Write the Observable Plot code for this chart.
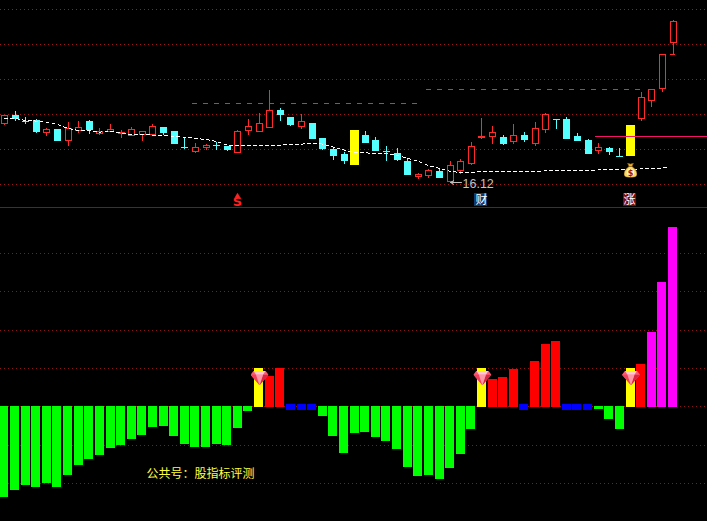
<!DOCTYPE html>
<html><head><meta charset="utf-8">
<script src="https://cdn.jsdelivr.net/npm/d3@7"></script>
<script src="https://cdn.jsdelivr.net/npm/@observablehq/plot@0.6"></script>
<style>html,body{margin:0;padding:0;background:#000;overflow:hidden}svg{display:block}</style>
</head><body><div id="chart"></div>
<script>
const openP  = [19.10,19.50,19.20,19.25,18.65,18.80,18.25,18.75,19.20,18.60,18.70,18.60,18.50,18.55,18.55,18.90,18.70,17.90,17.70,17.90,18.00,17.95,17.65,18.75,18.70,18.90,19.75,19.40,18.95,19.10,18.35,17.80,17.55,17.00,18.50,18.25,17.70,17.60,17.20,16.45,16.50,16.70,16.20,16.75,17.10,18.40,18.45,18.40,18.20,18.50,18.10,18.80,19.30,19.30,18.45,18.25,17.75,17.85,17.45,17.45,19.35,20.25,20.85,23.15];
const closeP = [19.50,19.35,19.19,18.70,18.80,18.25,18.85,18.90,18.80,18.70,18.80,18.61,18.80,18.70,18.95,18.65,18.10,17.89,17.90,18.00,17.99,17.80,18.70,18.95,19.10,19.75,19.55,19.05,19.20,18.35,17.85,17.50,17.25,18.75,18.15,17.75,17.69,17.30,16.55,16.55,16.75,16.40,17.00,17.20,17.95,18.41,18.65,18.10,18.50,18.30,18.85,19.55,19.29,18.35,18.25,17.60,17.90,17.70,17.44,19.00,20.40,20.80,22.55,24.20];
const highP  = [19.50,19.70,19.40,19.30,18.85,18.80,19.15,19.20,19.25,18.85,19.05,18.75,18.90,18.70,19.05,18.90,18.70,18.40,18.10,18.05,18.15,17.95,18.75,19.30,19.60,20.75,19.85,19.40,19.55,19.10,18.35,17.85,17.65,18.75,18.70,18.40,17.95,17.85,17.30,16.60,16.80,16.85,17.20,17.30,18.15,19.35,18.95,18.50,19.05,18.65,19.15,19.60,19.30,19.40,18.60,18.30,18.10,17.90,17.85,19.00,20.65,20.80,22.55,24.25];
const lowP   = [19.00,19.20,19.05,18.60,18.45,18.20,17.95,18.60,18.55,18.50,18.70,18.35,18.50,18.20,18.55,18.50,18.10,17.80,17.60,17.75,17.75,17.70,17.65,18.50,18.70,18.85,19.20,18.95,18.80,18.30,17.75,17.25,17.05,17.00,18.10,17.75,17.20,17.20,16.50,16.30,16.35,16.35,16.20,16.55,17.00,18.30,18.05,18.00,18.05,18.15,17.95,18.60,18.80,18.35,18.20,17.55,17.55,17.50,17.40,17.45,19.20,19.90,20.65,22.55];
const maP    = [19.35,19.35,19.25,19.22,19.15,19.05,18.85,18.75,18.75,18.67,18.70,18.62,18.55,18.55,18.52,18.52,18.45,18.42,18.35,18.30,18.20,18.02,18.00,18.00,18.00,18.00,18.02,18.05,18.07,18.12,18.07,17.92,17.77,17.65,17.63,17.61,17.60,17.50,17.37,17.20,17.00,16.85,16.70,16.65,16.66,16.70,16.70,16.70,16.70,16.70,16.71,16.73,16.73,16.74,16.75,16.75,16.78,16.79,16.80,16.80,16.83,16.85,16.87,16.95];
const signalCandles = [33, 59];
const priceGrid = [24.80, 23.05, 21.30, 19.55, 17.80, 16.05];
const resistance = [{p: 20.10, a: 17.73, b: 39.2}, {p: 20.80, a: 39.8, b: 60.2}];
const supportLine = {p: 18.45, a: 55.7, b: 66.3};
const limitTick = {p: 22.55, a: 62.72, b: 63.28};
const lowLabel = "16.12";
const signs = [{i: 22, t: "S", c: "#ff2020", bg: null}, {i: 45, t: "财", c: "#ffffff", bg: "#0c3a72"}, {i: 59, t: "涨", c: "#ffffff", bg: "#7a0c0c"}];

const hist = [-91,-84,-79,-81,-77,-81,-69,-59,-53,-49,-42,-39,-33,-29,-21,-20,-30,-38,-41,-41,-38,-39,-22,-5,38,30,38,1,1,1,-10,-30,-47,-27,-26,-31,-35,-43,-61,-70,-69,-73,-62,-48,-23,38,27,29,37,1,45,62,65,1,1,1,-3,-13,-23,38,42,74,124,179];
const yellowBars = [24, 45, 59];
const blueBars = [27, 28, 29, 49, 53, 54, 55];
const magentaBars = [61, 62, 63];
const histGrid = [153, 115, 76, 38, 0, -39, -77];
const footer = "公共号：股指标评测";

const xDomain = [-0.3675, 66.25];
const idx = d3.range(64);
const candles = idx.map(i => ({i, o: openP[i], c: closeP[i], h: highP[i], l: lowP[i], m: maP[i]}));
const normal = candles.filter(d => !signalCandles.includes(d.i));
const col = d => d.c >= d.o ? "#ff2a2a" : "#54ffff";
const crisp = {shapeRendering: "crispEdges"};
const dotted = {strokeDasharray: "1,3", strokeDashoffset: 0.5, ...crisp};

const gem = "data:image/svg+xml," + encodeURIComponent('<svg xmlns="http://www.w3.org/2000/svg" viewBox="0 0 18 14.500"><path d="M3 0H15L18 4L9 14.500L0 4Z" fill="#ff5a72"/><path d="M3 0H15L12.500 4H5.500Z" fill="#ffc8d0"/><path d="M0 4H5.500L9 14.500Z" fill="#f2405c"/><path d="M18 4H12.500L9 14.500Z" fill="#dc2440"/><path d="M5.500 4H12.500L9 14.500Z" fill="#ff98a6"/></svg>');
const bag = "data:image/svg+xml," + encodeURIComponent('<svg xmlns="http://www.w3.org/2000/svg" viewBox="0 0 13 15"><path d="M3.500 0.500L6.500 1.500L9.500 0.500L8 4H5Z" fill="#e8b030" stroke="#7a4a10" stroke-width=".6"/><path d="M5 4H8C11 6 13 9 13 11.500C13 14 11 15 6.500 15C2 15 0 14 0 11.500C0 9 2 6 5 4Z" fill="#f8d860" stroke="#8a5a10" stroke-width=".6"/><ellipse cx="6.500" cy="10" rx="3.800" ry="3.800" fill="#fff4c8"/><text x="6.500" y="13" font-size="8" font-weight="bold" text-anchor="middle" fill="#a01808" font-family="DejaVu Sans">$</text></svg>');

const topPanel = Plot.plot({
  width: 707, height: 208, margin: 0,
  style: {background: "#000"},
  x: {domain: xDomain, axis: null, round: true},
  y: {domain: [25.25, 14.85], range: [0, 208], axis: null},
  marks: [
    Plot.ruleY(priceGrid, {stroke: "#a01818", ...dotted}),
    Plot.ruleY(resistance, {y: "p", x1: "a", x2: "b", stroke: "#e03030", strokeDasharray: "5,6", ...crisp}),
    Plot.ruleX(normal, {x: "i", y1: "l", y2: "h", stroke: col, ...crisp}),
    Plot.rect(normal, {x1: d => d.i - 0.283, x2: d => d.i + 0.283, y1: "o", y2: "c", dx: 0.5, fill: d => d.c >= d.o ? "#000" : "#54ffff", stroke: col, ...crisp}),
    Plot.rect(signalCandles.map(i => candles[i]), {x1: d => d.i - 0.424, x2: d => d.i + 0.424, y1: "o", y2: "c", fill: "#ffff00", ...crisp}),
    Plot.ruleY([supportLine], {y: "p", x1: "a", x2: "b", stroke: "#f5106e", ...crisp}),
    Plot.ruleY([limitTick], {y: "p", x1: "a", x2: "b", stroke: "#ff2a2a", ...crisp}),
    Plot.line(candles, {x: d => d.i === 63 ? 62.7 : d.i, y: "m", stroke: "#fff", strokeWidth: 1, strokeDasharray: "3,3", curve: "linear", ...crisp}),
    Plot.image([candles[59]], {x: "i", y: () => 16.775, width: 13, height: 15, src: bag}),
    Plot.arrow([{}], {x1: () => 43.05, x2: () => 42, y1: () => 16.15, y2: () => 16.15, stroke: "#c0c0c0", strokeWidth: 1, headLength: 6, bend: 0}),
    Plot.text([lowLabel], {x: () => 43.2, y: () => 16.08, text: d => d, textAnchor: "start", fill: "#c4c4c4", fontSize: 12.5, fontFamily: "Liberation Sans"}),
    Plot.ruleY([14.9], {stroke: "#b00000", ...crisp}),
    Plot.rect(signs.filter(d => d.bg), {x1: d => d.i - 0.68, x2: d => d.i + 0.55, y1: () => 15.60, y2: () => 14.95, fill: "bg", ...crisp}),
    Plot.dot(signs.filter(d => !d.bg), {x: "i", y: () => 15.47, symbol: "triangle", r: 2.2, fill: "c"}),
    Plot.text(signs.filter(d => !d.bg), {x: "i", y: () => 15.2, text: "t", fill: "c", fontSize: 13, fontWeight: "bold", fontFamily: "DejaVu Sans"}),
    Plot.text(signs.filter(d => d.bg), {x: d => d.i - 0.07, y: () => 15.26, text: "t", fill: "c", fontSize: 12, fontFamily: "Noto Sans CJK SC"})
  ]
});

const H = idx.map(i => ({i, v: hist[i]}));
const inList = l => d => l.includes(d.i);
const barX = {x1: d => d.i - 0.424, x2: d => d.i + 0.424};
const special = [...yellowBars, ...blueBars, ...magentaBars];
const bottomPanel = Plot.plot({
  width: 707, height: 313, margin: 0,
  style: {background: "#000"},
  x: {domain: xDomain, axis: null},
  y: {domain: [198, -115], range: [0, 313], axis: null},
  marks: [
    Plot.ruleY(histGrid, {stroke: "#8a1616", ...dotted}),
    Plot.rectY(H.filter(d => d.v < 0), {...barX, y1: () => 0, y2: "v", fill: "#00ff00", ...crisp}),
    Plot.rectY(H.filter(d => d.v > 0 && !special.includes(d.i)), {...barX, y1: () => -1, y2: "v", fill: "#ff0000", ...crisp}),
    Plot.rectY(H.filter(inList(yellowBars)), {...barX, y1: () => -1, y2: "v", fill: "#ffff00", ...crisp}),
    Plot.rectY(H.filter(inList(magentaBars)), {...barX, y1: () => -1, y2: "v", fill: "#ff00ff", ...crisp}),
    Plot.rectY(H.filter(inList(blueBars)), {...barX, y1: () => -4, y2: () => 2, fill: "#0000ff", ...crisp}),
    Plot.image(H.filter(inList(yellowBars)), {x: d => d.i + 0.04, y: () => 28.5, width: 18, height: 14.5, src: gem}),
    Plot.text([footer], {x: () => 13.4, y: () => -68, text: d => d, textAnchor: "start", fill: "#ffff40", fontSize: 12, fontFamily: "Noto Sans CJK SC"})
  ]
});
document.getElementById("chart").append(topPanel, bottomPanel);
</script></body></html>
